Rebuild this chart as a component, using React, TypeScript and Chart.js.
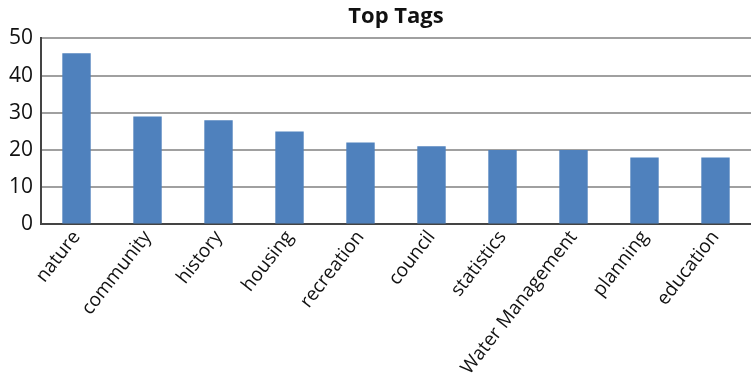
import React, { useEffect, useRef } from "react";
import { Chart, registerables } from "chart.js";

Chart.register(...registerables);

const categories: string[] = [
  "nature",
  "community",
  "history",
  "housing",
  "recreation",
  "council",
  "statistics",
  "Water Management",
  "planning",
  "education",
];
const tagCounts: number[] = [46, 29, 28, 25, 22, 21, 20, 20, 18, 18];
const yTicks: number[] = [0, 10, 20, 30, 40, 50];
const chartTitle = "Top Tags";

export default function App() {
  const ref = useRef<HTMLCanvasElement | null>(null);
  useEffect(() => {
    document.body.style.margin = "0";
    const ctx = ref.current;
    if (!ctx) return;
    const font = "'Open Sans', sans-serif";
    const chart = new Chart(ctx, {
      type: "bar",
      data: {
        labels: categories,
        datasets: [
          {
            label: "Tags",
            data: tagCounts,
            backgroundColor: "#4F81BD",
            borderWidth: 0,
            barPercentage: 0.4,
            categoryPercentage: 1,
          },
        ],
      },
      options: {
        responsive: false,
        animation: false,
        layout: { padding: { left: 1, right: 0, top: 4, bottom: 0 } },
        plugins: {
          legend: { display: false },
          tooltip: { enabled: false },
          title: {
            display: true,
            text: chartTitle,
            fullSize: false,
            color: "#111",
            font: { family: font, size: 22, weight: "bold" },
            padding: { top: 0, bottom: 8 },
          },
        },
        scales: {
          x: {
            grid: { display: false, drawTicks: false },
            border: { display: true, color: "#444", width: 2 },
            ticks: {
              color: "#111",
              font: { family: font, size: 19 },
              maxRotation: 52,
              minRotation: 52,
              autoSkip: false,
              padding: 2,
            },
          },
          y: {
            min: 0,
            max: 50,
            afterBuildTicks: (axis: any) => {
              axis.ticks = yTicks.map((v) => ({ value: v }));
            },
            grid: { color: "#a0a0a0", lineWidth: 2, drawTicks: false },
            border: { display: true, color: "#444", width: 2 },
            ticks: {
              color: "#111",
              font: { family: font, size: 21 },
              padding: 8,
            },
          },
        },
      },
    });
    return () => chart.destroy();
  }, []);
  return (
    <div style={{ width: 751, height: 381 }}>
      <canvas ref={ref} width={751} height={381} style={{ display: "block" }} />
    </div>
  );
}
